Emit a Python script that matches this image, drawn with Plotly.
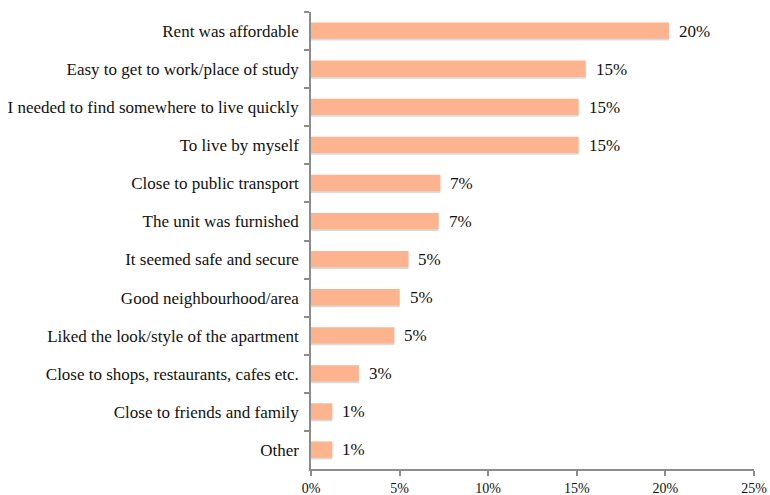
import plotly.graph_objects as go

categories = [
    "Rent was affordable",
    "Easy to get to work/place of study",
    "I needed to find somewhere to live quickly",
    "To live by myself",
    "Close to public transport",
    "The unit was furnished",
    "It seemed safe and secure",
    "Good neighbourhood/area",
    "Liked the look/style of the apartment",
    "Close to shops, restaurants, cafes etc.",
    "Close to friends and family",
    "Other",
]
values = [0.202, 0.155, 0.151, 0.151, 0.073, 0.072, 0.055, 0.050, 0.047, 0.027, 0.012, 0.012]
labels = ["20%", "15%", "15%", "15%", "7%", "7%", "5%", "5%", "5%", "3%", "1%", "1%"]
xticks = [0, 0.05, 0.10, 0.15, 0.20, 0.25]
xticklabels = ["0%", "5%", "10%", "15%", "20%", "25%"]

font_family = "Times New Roman, Liberation Serif, serif"
axis_color = "#8c8c8c"

fig = go.Figure()
# subtle shadow
fig.add_trace(go.Bar(
    x=values, y=categories, orientation="h",
    marker=dict(color="rgba(150,150,150,0.35)", line=dict(width=0)),
    width=0.45, offset=-0.20, hoverinfo="skip", showlegend=False,
))
fig.add_trace(go.Bar(
    x=values, y=categories, orientation="h",
    marker=dict(color="#FDB38E", line=dict(width=0)),
    width=0.43, offset=-0.225, showlegend=False,
))
fig.update_layout(barmode="overlay")

annotations = []
for c, v, t in zip(categories, values, labels):
    annotations.append(dict(
        x=v, y=c, text=t, xanchor="left", yanchor="middle", xshift=8,
        showarrow=False, font=dict(family=font_family, size=17, color="#111"),
    ))

fig.update_layout(
    width=770, height=495,
    margin=dict(l=311, r=16, t=12, b=26),
    paper_bgcolor="white", plot_bgcolor="white",
    annotations=annotations,
    font=dict(family=font_family, size=17, color="#111"),
    xaxis=dict(
        range=[0, 0.25], tickvals=xticks, ticktext=xticklabels,
        showgrid=False, zeroline=False, showline=True, linecolor=axis_color, linewidth=1.5,
        ticks="outside", ticklen=5, tickcolor=axis_color, tickwidth=1.5,
        tickfont=dict(family=font_family, size=14, color="#111"),
        fixedrange=True, automargin=False,
    ),
    yaxis=dict(
        categoryorder="array", categoryarray=categories,
        showgrid=False, zeroline=False, showline=True, linecolor=axis_color, linewidth=1.5,
        ticks="outside", ticklen=5, tickcolor=axis_color, tickwidth=1.5,
        tickson="boundaries", ticklabelstandoff=7,
        tickfont=dict(family=font_family, size=17, color="#111"),
        range=[11.5, -0.5], automargin=False,
    ),
)

fig.write_html("out.html")
